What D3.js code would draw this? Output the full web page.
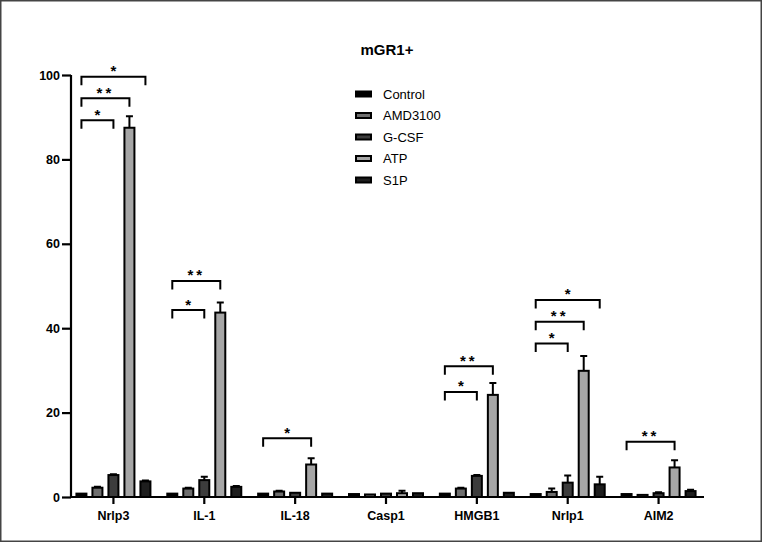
<!DOCTYPE html>
<html>
<head>
<meta charset="utf-8">
<script src="https://cdn.jsdelivr.net/npm/d3@7"></script>
<style>
  body { margin: 0; background: #fff; }
  text { font-family: "Liberation Sans", Arial, sans-serif; }
</style>
</head>
<body>
<div id="chart"></div>
<script>
var svgWidth = 762;
var svgHeight = 542;

// data
var genes = ["Nrlp3", "IL-1", "IL-18", "Casp1", "HMGB1", "Nrlp1", "AIM2"];
var groups = ["Control", "AMD3100", "G-CSF", "ATP", "S1P"];
var colors = ["#000000", "#6e6e6e", "#3c3c3c", "#a6a6a6", "#1e1e1e"];

var control = [0.8, 0.8, 0.8, 0.7, 0.8, 0.7, 0.7];
var amd3100 = [2.2, 2.0, 1.3, 0.6, 2.0, 1.2, 0.5];
var gcsf    = [5.2, 4.0, 1.0, 0.8, 5.0, 3.4, 0.9];
var atp     = [87.5, 43.7, 7.7, 0.9, 24.2, 29.9, 7.0];
var s1p     = [3.7, 2.4, 0.8, 0.9, 1.0, 3.0, 1.4];

var controlErr = [0, 0, 0, 0, 0, 0, 0];
var amd3100Err = [0.2, 0.2, 0.2, 0, 0.2, 0.8, 0];
var gcsfErr    = [0.2, 0.8, 0, 0, 0.2, 1.7, 0.2];
var atpErr     = [2.7, 2.4, 1.5, 0.6, 2.8, 3.5, 1.7];
var s1pErr     = [0.2, 0.2, 0, 0, 0, 1.8, 0.3];

var yTicks = [0, 20, 40, 60, 80, 100];

// significance brackets: from Control to another group
var sigGene  = ["Nrlp3", "Nrlp3", "Nrlp3", "IL-1", "IL-1", "IL-18", "HMGB1", "HMGB1", "Nrlp1", "Nrlp1", "Nrlp1", "AIM2"];
var sigTo    = ["G-CSF", "ATP", "S1P", "G-CSF", "ATP", "ATP", "G-CSF", "ATP", "G-CSF", "ATP", "S1P", "ATP"];
var sigY     = [89.3, 94.5, 99.6, 44.3, 51.2, 13.9, 24.9, 31.0, 36.4, 41.5, 46.7, 13.1];
var sigLabel = ["*", "**", "*", "*", "**", "*", "*", "**", "*", "**", "*", "**"];

var values = [control, amd3100, gcsf, atp, s1p];
var errs = [controlErr, amd3100Err, gcsfErr, atpErr, s1pErr];

var svg = d3.select("#chart")
            .append("svg")
            .attr("width", svgWidth)
            .attr("height", svgHeight);

svg.append("rect")
   .attr("x", 0.75).attr("y", 0.75)
   .attr("width", svgWidth - 1.5).attr("height", svgHeight - 1.5)
   .attr("fill", "#fff")
   .attr("stroke", "#444")
   .attr("stroke-width", 1.5);

var yScale = d3.scaleLinear()
               .domain([0, 100])
               .range([497, 75]);

var xScale = d3.scaleBand()
               .domain(genes)
               .range([68, 704]);

var xInner = d3.scaleBand()
               .domain(groups)
               .range([-40, 40]);

var barW = 10;

function cx(gene, group) {
    return xScale(gene) + xScale.bandwidth() / 2 + xInner(group) + xInner.bandwidth() / 2;
}

// title
svg.append("text")
   .attr("x", 387)
   .attr("y", 55)
   .attr("text-anchor", "middle")
   .attr("font-size", 15)
   .attr("font-weight", "bold")
   .text("mGR1+");

// bars
var flat = [];
groups.forEach(function(g, i) {
    genes.forEach(function(gene, j) {
        flat.push({gene: gene, group: g, gi: i, v: values[i][j], e: errs[i][j]});
    });
});

var chartGroup = svg.append("g");

// error bars (upper only)
chartGroup.selectAll(".err")
    .data(flat.filter(function(d) { return d.e > 0; }))
    .enter().append("path")
    .attr("class", "err")
    .attr("d", function(d) {
        var x = cx(d.gene, d.group);
        var y1 = yScale(d.v), y2 = yScale(d.v + d.e);
        return "M" + x + "," + y1 + "V" + y2 + "M" + (x - 3.5) + "," + y2 + "H" + (x + 3.5);
    })
    .attr("stroke", "#000")
    .attr("stroke-width", 2)
    .attr("fill", "none");

chartGroup.selectAll(".bar")
    .data(flat)
    .enter().append("rect")
    .attr("class", "bar")
    .attr("x", function(d) { return cx(d.gene, d.group) - barW / 2; })
    .attr("y", function(d) { return yScale(d.v); })
    .attr("width", barW)
    .attr("height", function(d) { return yScale(0) - yScale(d.v); })
    .attr("fill", function(d) { return colors[d.gi]; })
    .attr("stroke", "#000")
    .attr("stroke-width", 2);

// brackets
sigGene.forEach(function(gene, i) {
    var x1 = cx(gene, "Control");
    var x2 = cx(gene, sigTo[i]);
    var y = yScale(sigY[i]);
    svg.append("path")
       .attr("d", "M" + x1 + "," + (y + 8.5) + "V" + y + "H" + x2 + "V" + (y + 8.5))
       .attr("stroke", "#000")
       .attr("stroke-width", 2)
       .attr("fill", "none");
    svg.append("text")
       .attr("x", (x1 + x2) / 2)
       .attr("y", y - 0.5)
       .attr("text-anchor", "middle")
       .attr("font-size", 15)
       .attr("font-weight", "bold")
       .attr("letter-spacing", sigLabel[i].length > 1 ? 3 : 0)
       .text(sigLabel[i]);
});

// axes
var yAxis = d3.axisLeft(yScale).tickValues(yTicks).tickSize(9).tickPadding(2);
var xAxis = d3.axisBottom(xScale).tickSize(7).tickPadding(7);

var gy = svg.append("g")
    .attr("transform", "translate(71,0)")
    .call(yAxis);
gy.select(".domain").attr("d", "M0," + yScale(100) + "V" + yScale(0));

var gx = svg.append("g")
    .attr("transform", "translate(0," + yScale(0) + ")")
    .call(xAxis);
gx.select(".domain").attr("d", "M70,0H704");

svg.selectAll(".domain, .tick line")
   .attr("stroke", "#000")
   .attr("stroke-width", 2.2);
svg.selectAll(".tick text")
   .attr("font-family", "Liberation Sans, Arial, sans-serif")
   .attr("font-weight", "bold")
   .attr("font-size", 12.5)
   .attr("fill", "#000");

// legend
var legend = svg.append("g").attr("transform", "translate(355,94)");
groups.forEach(function(g, i) {
    var row = legend.append("g").attr("transform", "translate(0," + (i * 21.5) + ")");
    row.append("rect")
       .attr("x", 1).attr("y", -2.5)
       .attr("width", 15).attr("height", 5)
       .attr("fill", colors[i])
       .attr("stroke", "#000")
       .attr("stroke-width", 2);
    row.append("text")
       .attr("x", 28)
       .attr("y", 0)
       .attr("dy", "0.35em")
       .attr("font-size", 13)
       .text(g);
});
</script>
</body>
</html>
